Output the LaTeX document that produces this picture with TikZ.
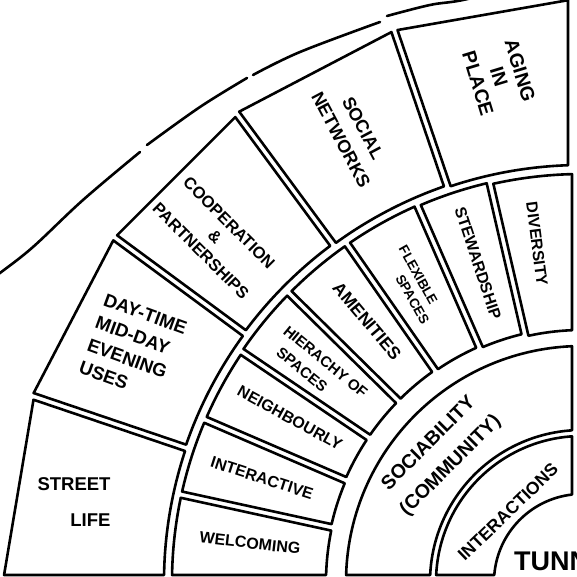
\documentclass[tikz,border=0pt]{standalone}
\usepackage{fontspec}
\setmainfont{Liberation Sans}
\usetikzlibrary{positioning}
%% one box of a ring: r_in, r_out, start angle, start offset, end angle, end offset
\newcommand{\ringbox}[6]{%
  \pgfmathsetmacro\bxsi{#3-asin(#4/#1)}%
  \pgfmathsetmacro\bxso{#3-asin(#4/#2)}%
  \pgfmathsetmacro\bxei{#5+asin(#6/#1)}%
  \pgfmathsetmacro\bxeo{#5+asin(#6/#2)}%
  \draw[box] (\bxsi:#1) arc[start angle=\bxsi, end angle=\bxei, radius=#1]
    -- (\bxeo:#2) arc[start angle=\bxeo, end angle=\bxso, radius=#2] -- cycle;}
%% same, with a straight outer side
\newcommand{\chordbox}[6]{%
  \pgfmathsetmacro\bxsi{#3-asin(#4/#1)}%
  \pgfmathsetmacro\bxso{#3-asin(#4/#2)}%
  \pgfmathsetmacro\bxei{#5+asin(#6/#1)}%
  \pgfmathsetmacro\bxeo{#5+asin(#6/#2)}%
  \draw[box] (\bxsi:#1) arc[start angle=\bxsi, end angle=\bxei, radius=#1]
    -- (\bxeo:#2) -- (\bxso:#2) -- cycle;}

\begin{document}
\begin{tikzpicture}[x=1pt, y=1pt,
             box/.style={draw, line width=2.6pt, line join=round},
             edge/.style={line width=2.6pt, line cap=round},
             lbl/.style={inner sep=0pt, align=center,
                         font=\bfseries\fontsize{16}{20}\selectfont},
             biglbl/.style={lbl, font=\bfseries\fontsize{18.5}{24}\selectfont}]
\useasboundingbox (-582,5) rectangle (-6,582);

%% ring 1 and ring 2
\ringbox{88}{146}{180}{7}{90}{10}
\ringbox{152}{236}{180}{7}{90}{10}

%% ring 3: eight small boxes
\ringbox{256}{410}{180}{7}{167.7}{3.2}
\ringbox{257}{410}{167.7}{3.2}{156.7}{3.2}
\ringbox{258}{410}{156.7}{3.2}{145.9}{3.2}
\ringbox{258}{411}{145.9}{3.2}{135.4}{3.2}
\ringbox{258}{411}{135.4}{3.2}{124.8}{3.2}
\ringbox{257}{411}{124.8}{3.2}{113.6}{3.2}
\ringbox{255}{410}{113.6}{3.2}{103.0}{3.2}
\ringbox{252}{408}{103.0}{3.2}{90}{10}

%% ring 4: five large boxes
\chordbox{418}{578}{180}{7}{161.3}{3.2}
\chordbox{419}{580}{161.3}{3.2}{143.6}{3.2}
\chordbox{420}{580}{143.6}{3.2}{126.4}{3.2}
\chordbox{419}{582}{126.4}{3.2}{108.8}{3.2}
\chordbox{417}{582}{108.8}{3.2}{90}{14}

%% outer arc (drawn in pieces)
\draw[edge] plot[smooth, tension=0.6] coordinates
  {(-590,303) (-582,309) (-549,335) (-499,382) (-442,430)};
\draw[edge] plot[smooth, tension=0.6] coordinates
  {(-435,437) (-382,475) (-335,504)};
\draw[edge] plot[smooth, tension=0.6] coordinates
  {(-329,507) (-282,530) (-202,560)};
\draw[edge] plot[smooth, tension=0.6] coordinates
  {(-195,566) (-152,577) (-119,582) (-60,596)};

%% labels, inner rings
\node[lbl, anchor=base west, font=\bfseries\fontsize{27}{30}\selectfont] (tunn) at (-68,12) {TUNN};
\node[lbl, rotate=44, font=\bfseries\fontsize{17.5}{22}\selectfont] (interactions) at (-74,70) {INTERACTIONS};
\node[lbl, rotate=45, font=\bfseries\fontsize{19.5}{24}\selectfont] (sociability) at (-142,127)
  {SOCIABILITY\\[7pt](COMMUNITY)};

%% labels, ring 3
\node[lbl, rotate=-6.6]  (welcoming)   at (-332,39)  {WELCOMING};
\node[lbl, rotate=-17.8] (interactive) at (-320,104) {INTERACTIVE};
\node[lbl, rotate=-28.7] (neighbourly) at (-292,164) {NEIGHBOURLY};
\node[lbl, rotate=-39.4, align=left, font=\bfseries\fontsize{15}{21}\selectfont] (hierachy) at (-263,212)
  {HIERACHY OF\\\hspace*{8pt}SPACES};
\node[lbl, rotate=-49.9, font=\bfseries\fontsize{17.5}{22}\selectfont] (amenities) at (-215,261) {AMENITIES};
\node[lbl, rotate=-60.8, align=left, font=\bfseries\fontsize{13.5}{17}\selectfont] (flexible) at (-168,297)
  {FLEXIBLE\\\hspace*{24pt}SPACES};
\node[lbl, rotate=-71.7] (stewardship) at (-104,319) {STEWARDSHIP};
\node[lbl, rotate=-82.7] (diversity)   at (-45,338)  {DIVERSITY};

%% labels, ring 4
\node[biglbl, align=right] (street) at (-508,80) {STREET\\[12pt]LIFE};
\node[biglbl, rotate=-20, align=left] (daytime) at (-449,234)
  {DAY-TIME\\MID-DAY\\EVENING\\USES};
\node[lbl, rotate=-45, font=\bfseries\fontsize{16.5}{20}\selectfont] (cooperation) at (-367,345)
  {COOPERATION\\\&\\PARTNERSHIPS};
\node[biglbl, rotate=-62, font=\bfseries\fontsize{18}{25}\selectfont] (social) at (-230,448)
  {SOCIAL\\NETWORKS};
\node[biglbl, rotate=-73, font=\bfseries\fontsize{19.5}{22}\selectfont] (aging) at (-83,505)
  {AGING\\IN\\PLACE};
\end{tikzpicture}
\end{document}
